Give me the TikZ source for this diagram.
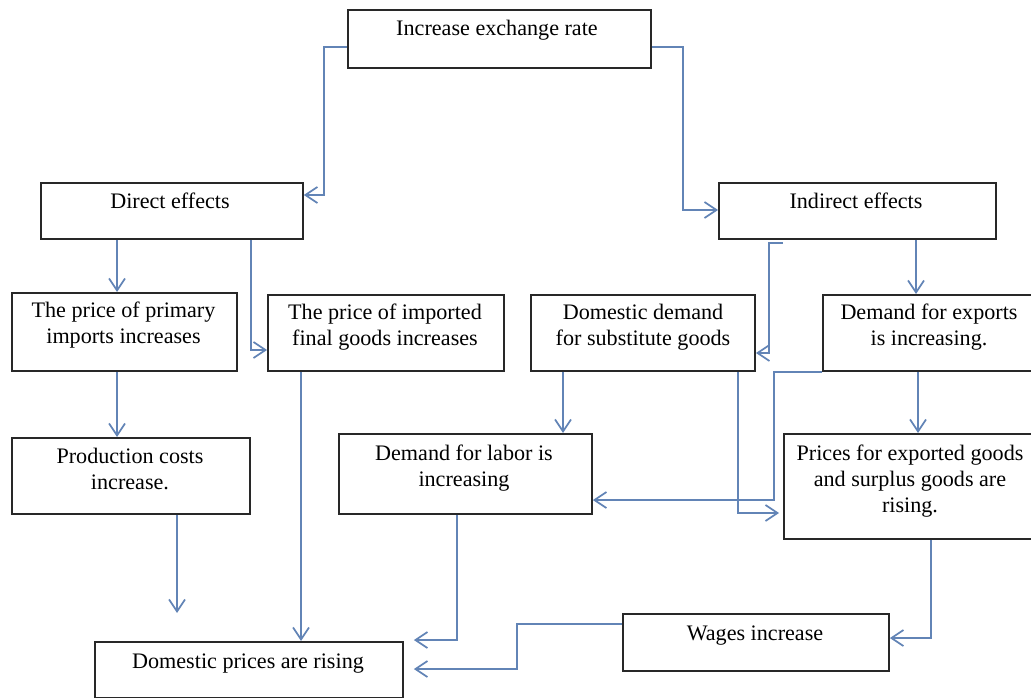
\documentclass[tikz,border=0pt]{standalone}
\usepackage{fontspec}
\setmainfont{Liberation Serif}
\usetikzlibrary{calc,arrows.meta}
\definecolor{conn}{RGB}{98,132,182}
\definecolor{edge}{RGB}{40,40,40}
\tikzset{
  boxnode/.style={draw=edge, line width=1.4pt, inner sep=0pt, anchor=north west},
  txt/.style={font=\fontsize{16.6}{19.5}\selectfont, align=center, inner sep=0pt, anchor=base},
  arr/.style={draw=conn, line width=1.3pt, -{Straight Barb[length=9pt,width=12pt]}},
  plain/.style={draw=conn, line width=1.3pt}
}
\newcommand\mkbox[5]{\node[boxnode, minimum width={(#4-#2)*0.75pt}, minimum height={(#5-#3)*0.75pt}] (#1) at (#2,#3) {};}
\begin{document}
\begin{tikzpicture}[x=0.75pt,y=-0.75pt]
\useasboundingbox (0,0) rectangle (1031,698);
% boxes
\mkbox{inc}{347}{9}{650}{67}
\mkbox{dir}{40}{182}{302}{238}
\mkbox{ind}{718}{182}{995}{238}
\mkbox{pri}{11}{292}{236}{370}
\mkbox{fin}{267}{294}{503}{370}
\mkbox{sub}{530}{294}{754}{370}
\mkbox{exp}{822}{294}{1045}{370}
\mkbox{pro}{11}{437}{249}{513}
\mkbox{lab}{338}{433}{591}{513}
\mkbox{pri2}{783}{433}{1045}{538}
\mkbox{wag}{622}{613}{888}{670}
\mkbox{dom}{94}{641}{402}{697}
% texts (base anchor = baseline of the last line)
\node[txt] (incT) at (497,36) {Increase exchange rate};
\node[txt] (dirT) at (170,209) {Direct effects};
\node[txt] (indT) at (856,209) {Indirect effects};
\node[txt] (priT) at (123.5,344) {The price of primary\\imports increases};
\node[txt] (finT) at (385,345) {The price of imported\\final goods increases};
\node[txt] (subT) at (643,345) {Domestic demand\\for substitute goods};
\node[txt] (expT) at (929,346) {Demand for exports\\is increasing.};
\node[txt] (proT) at (130,489) {Production costs\\increase.};
\node[txt] (labT) at (464,486) {Demand for labor is\\increasing};
\node[txt] (pri2T) at (910,512) {Prices for exported goods\\and surplus goods are\\rising.};
\node[txt] (wagT) at (755,640) {Wages increase};
\node[txt] (domT) at (248,668) {Domestic prices are rising};
\coordinate (pcEnd) at (177,613);
% connectors
\draw[arr] ($(inc.north west)+(0,38)$) -| ($(dir.north east)+(20,13)$) -- ($(dir.north east)+(0,13)$);
\draw[arr] ($(inc.north east)+(0,38)$) -| ($(ind.north west)+(-35,28)$) -- ($(ind.north west)+(0,28)$);
\draw[arr] ($(dir.south west)+(77,0)$) -- ($(pri.north west)+(106,0)$);
\draw[arr] ($(dir.south west)+(211,0)$) |- ($(fin.north west)+(0,56)$);
\draw[arr] ($(pri.south west)+(106,0)$) -- ($(pro.north west)+(106,0)$);
\draw[arr] ($(pro.south west)+(166,0)$) -- (pcEnd);
\draw[arr] ($(fin.south west)+(34,0)$) -- ($(dom.north west)+(207,0)$);
\draw[arr] ($(lab.south west)+(119,0)$) |- ($(dom.north east)+(10,-1)$);
\draw[arr] ($(wag.north west)+(0,11)$) -| ($(dom.north east)+(113,28)$) -- ($(dom.north east)+(10,28)$);
\draw[arr] ($(ind.south west)+(198,0)$) -- ($(exp.north west)+(94,0)$);
\draw[arr] ($(ind.south west)+(65,3)$) -- ($(ind.south west)+(51,3)$) |- ($(sub.north east)+(0,59)$);
\draw[arr] ($(sub.south west)+(33,0)$) -- ($(lab.north west)+(225,0)$);
\draw[arr] ($(sub.south west)+(208,0)$) |- ($(pri2.north west)+(-4,80)$);
\draw[arr] (exp.south west) -| ($(lab.north east)+(181,67)$) -- ($(lab.north east)+(0,67)$);
\draw[arr] ($(exp.south west)+(96,0)$) -- ($(pri2.north west)+(135,0)$);
\draw[arr] ($(pri2.south west)+(148,0)$) |- ($(wag.north east)+(0,25)$);
\end{tikzpicture}
\end{document}
